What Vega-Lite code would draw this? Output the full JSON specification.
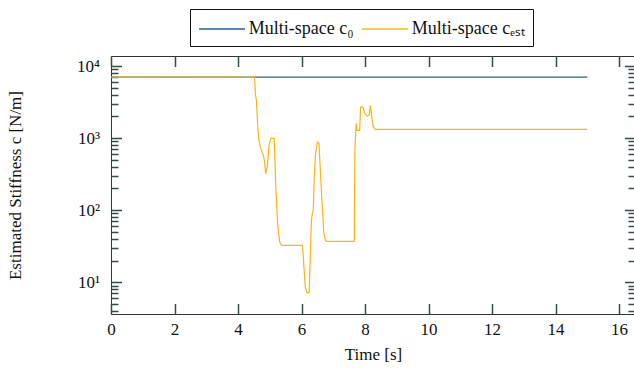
{
  "$schema": "https://vega.github.io/schema/vega-lite/v6.json",
  "width": 524,
  "height": 258,
  "autosize": {"type": "none"},
  "padding": {"left": 111, "top": 56, "right": 0, "bottom": 54},
  "config": {
    "font": "Liberation Serif",
    "view": {"stroke": "#333", "strokeWidth": 1},
    "axis": {"grid": false, "domain": false, "ticks": true, "tickOpacity": 1, "labelFlush": false, "labelOverlap": false, "labelFont": "Liberation Serif", "titleFont": "Liberation Serif", "titleFontWeight": "normal", "labelColor": "#111", "titleColor": "#111", "tickColor": "darkslategray", "tickWidth": 1.5}
  },
  "data": {
    "values": [
      {"s": "Multi-space c₀", "t": 0, "c": 7000},
      {"s": "Multi-space c₀", "t": 15, "c": 7000},
      {"s": "Multi-space cₑₛₜ", "t": 0, "c": 7000},
      {"s": "Multi-space cₑₛₜ", "t": 4.52, "c": 7000},
      {"s": "Multi-space cₑₛₜ", "t": 4.55, "c": 4000},
      {"s": "Multi-space cₑₛₜ", "t": 4.58, "c": 3300},
      {"s": "Multi-space cₑₛₜ", "t": 4.62, "c": 1500},
      {"s": "Multi-space cₑₛₜ", "t": 4.65, "c": 1000},
      {"s": "Multi-space cₑₛₜ", "t": 4.70, "c": 760},
      {"s": "Multi-space cₑₛₜ", "t": 4.75, "c": 650},
      {"s": "Multi-space cₑₛₜ", "t": 4.80, "c": 575},
      {"s": "Multi-space cₑₛₜ", "t": 4.83, "c": 490},
      {"s": "Multi-space cₑₛₜ", "t": 4.87, "c": 322},
      {"s": "Multi-space cₑₛₜ", "t": 4.92, "c": 400},
      {"s": "Multi-space cₑₛₜ", "t": 4.97, "c": 754},
      {"s": "Multi-space cₑₛₜ", "t": 5.03, "c": 990},
      {"s": "Multi-space cₑₛₜ", "t": 5.14, "c": 990},
      {"s": "Multi-space cₑₛₜ", "t": 5.19, "c": 210},
      {"s": "Multi-space cₑₛₜ", "t": 5.25, "c": 60},
      {"s": "Multi-space cₑₛₜ", "t": 5.32, "c": 35},
      {"s": "Multi-space cₑₛₜ", "t": 5.38, "c": 32.6},
      {"s": "Multi-space cₑₛₜ", "t": 6.03, "c": 32.6},
      {"s": "Multi-space cₑₛₜ", "t": 6.08, "c": 15},
      {"s": "Multi-space cₑₛₜ", "t": 6.12, "c": 8.5},
      {"s": "Multi-space cₑₛₜ", "t": 6.17, "c": 7.2},
      {"s": "Multi-space cₑₛₜ", "t": 6.24, "c": 7.2},
      {"s": "Multi-space cₑₛₜ", "t": 6.27, "c": 20},
      {"s": "Multi-space cₑₛₜ", "t": 6.31, "c": 70},
      {"s": "Multi-space cₑₛₜ", "t": 6.34, "c": 90},
      {"s": "Multi-space cₑₛₜ", "t": 6.37, "c": 100},
      {"s": "Multi-space cₑₛₜ", "t": 6.40, "c": 300},
      {"s": "Multi-space cₑₛₜ", "t": 6.44, "c": 600},
      {"s": "Multi-space cₑₛₜ", "t": 6.50, "c": 883},
      {"s": "Multi-space cₑₛₜ", "t": 6.55, "c": 850},
      {"s": "Multi-space cₑₛₜ", "t": 6.60, "c": 300},
      {"s": "Multi-space cₑₛₜ", "t": 6.64, "c": 140},
      {"s": "Multi-space cₑₛₜ", "t": 6.70, "c": 50},
      {"s": "Multi-space cₑₛₜ", "t": 6.75, "c": 38},
      {"s": "Multi-space cₑₛₜ", "t": 6.80, "c": 37},
      {"s": "Multi-space cₑₛₜ", "t": 7.66, "c": 37},
      {"s": "Multi-space cₑₛₜ", "t": 7.68, "c": 700},
      {"s": "Multi-space cₑₛₜ", "t": 7.72, "c": 1590},
      {"s": "Multi-space cₑₛₜ", "t": 7.75, "c": 1280},
      {"s": "Multi-space cₑₛₜ", "t": 7.83, "c": 1280},
      {"s": "Multi-space cₑₛₜ", "t": 7.86, "c": 2700},
      {"s": "Multi-space cₑₛₜ", "t": 7.93, "c": 2700},
      {"s": "Multi-space cₑₛₜ", "t": 7.99, "c": 2230},
      {"s": "Multi-space cₑₛₜ", "t": 8.07, "c": 2000},
      {"s": "Multi-space cₑₛₜ", "t": 8.13, "c": 2100},
      {"s": "Multi-space cₑₛₜ", "t": 8.17, "c": 2850},
      {"s": "Multi-space cₑₛₜ", "t": 8.21, "c": 2000},
      {"s": "Multi-space cₑₛₜ", "t": 8.26, "c": 1430},
      {"s": "Multi-space cₑₛₜ", "t": 8.32, "c": 1325},
      {"s": "Multi-space cₑₛₜ", "t": 15, "c": 1325}
    ]
  },
  "layer": [
    {
      "mark": {"type": "line", "strokeWidth": 1.2},
      "encoding": {
        "x": {"field": "t", "type": "quantitative", "scale": {"domain": [0, 16.5], "nice": false, "zero": false},
          "axis": {"orient": "bottom", "values": [0, 2, 4, 6, 8, 10, 12, 14, 16], "offset": -10.5, "tickSize": 10.5, "tickColor": "darkslategray", "tickWidth": 1.5, "labelPadding": 7, "labelFontSize": 17, "title": "Time [s]", "titleFontSize": 17, "titlePadding": 9}},
        "y": {"field": "c", "type": "quantitative", "scale": {"type": "log", "domain": [3.63, 13780], "nice": false, "zero": false},
          "axis": {"orient": "left", "values": [10, 100, 1000, 10000], "offset": -10.5, "tickSize": 10.5, "tickColor": "darkslategray", "tickWidth": 1.5,
            "labelExpr": "datum.value == 10 ? '10¹' : datum.value == 100 ? '10²' : datum.value == 1000 ? '10³' : '10⁴'",
            "labelPadding": 11.5, "labelFontSize": 17, "title": "Estimated Stiffness c [N/m]", "titleFontSize": 17, "titlePadding": 52}},
        "color": {"field": "s", "type": "nominal",
          "scale": {"domain": ["Multi-space c₀", "Multi-space cₑₛₜ"], "range": ["#1f5f9c", "#fbb416"]},
          "legend": {"orient": "none", "legendX": 79, "legendY": -47, "direction": "horizontal", "title": null, "strokeColor": "#111", "fillColor": "white", "padding": 8, "symbolType": "M-2.09,0H2.09", "symbolSize": 484, "symbolOffset": 12, "symbolFillColor": "transparent", "symbolStrokeWidth": 1.3, "labelFont": "Liberation Serif", "labelFontSize": 18, "labelColor": "#111", "labelOffset": 14.7, "columnPadding": 5}}
      }
    },
    {
      "mark": {"type": "line", "strokeOpacity": 0},
      "encoding": {
        "x": {"field": "t", "type": "quantitative", "scale": {"domain": [0, 16.5], "nice": false, "zero": false},
          "axis": {"orient": "top", "values": [0, 2, 4, 6, 8, 10, 12, 14, 16], "offset": -10.5, "tickSize": 10.5, "tickColor": "darkslategray", "tickWidth": 1.5, "labels": false, "title": null}},
        "y": {"field": "c", "type": "quantitative", "scale": {"type": "log", "domain": [3.63, 13780], "nice": false, "zero": false},
          "axis": {"orient": "left", "values": [4, 5, 6, 7, 8, 9, 20, 30, 40, 50, 60, 70, 80, 90, 200, 300, 400, 500, 600, 700, 800, 900, 2000, 3000, 4000, 5000, 6000, 7000, 8000, 9000], "offset": -7, "tickSize": 7, "tickColor": "darkslategray", "tickWidth": 1.5, "labels": false, "title": null}}
      }
    },
    {
      "mark": {"type": "line", "strokeOpacity": 0},
      "encoding": {
        "x": {"field": "t", "type": "quantitative", "scale": {"domain": [0, 16.5], "nice": false, "zero": false}, "axis": null},
        "y": {"field": "c", "type": "quantitative", "scale": {"type": "log", "domain": [3.63, 13780], "nice": false, "zero": false},
          "axis": {"orient": "right", "values": [10, 100, 1000, 10000], "offset": -10.5, "tickSize": 10.5, "tickColor": "darkslategray", "tickWidth": 1.5, "labels": false, "title": null}}
      }
    },
    {
      "mark": {"type": "line", "strokeOpacity": 0},
      "encoding": {
        "x": {"field": "t", "type": "quantitative", "scale": {"domain": [0, 16.5], "nice": false, "zero": false}, "axis": null},
        "y": {"field": "c", "type": "quantitative", "scale": {"type": "log", "domain": [3.63, 13780], "nice": false, "zero": false},
          "axis": {"orient": "right", "values": [4, 5, 6, 7, 8, 9, 20, 30, 40, 50, 60, 70, 80, 90, 200, 300, 400, 500, 600, 700, 800, 900, 2000, 3000, 4000, 5000, 6000, 7000, 8000, 9000], "offset": -7, "tickSize": 7, "tickColor": "darkslategray", "tickWidth": 1.5, "labels": false, "title": null}}
      }
    }
  ],
  "resolve": {"axis": {"x": "independent", "y": "independent"}}
}
